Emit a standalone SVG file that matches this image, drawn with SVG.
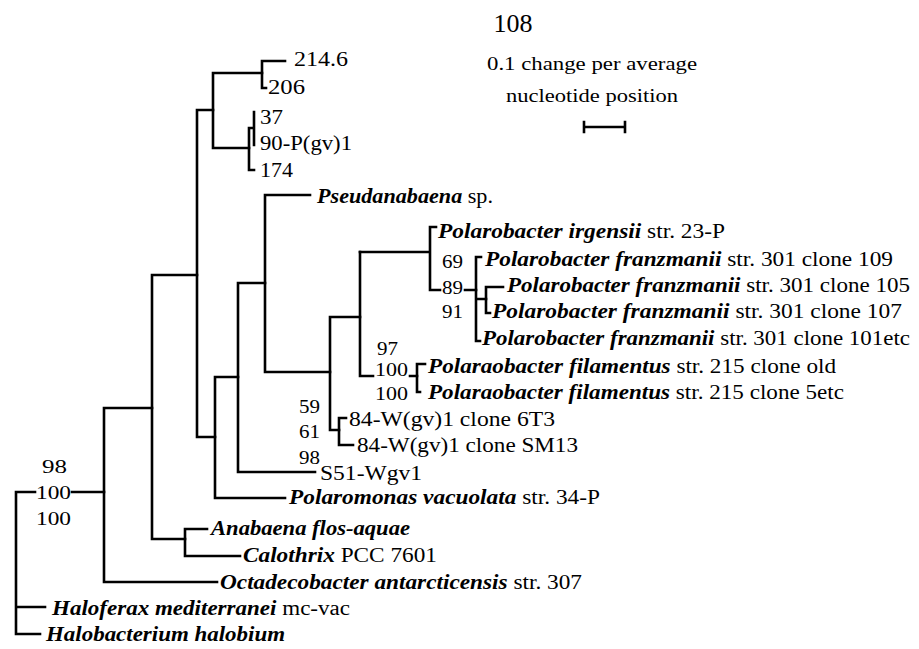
<svg xmlns="http://www.w3.org/2000/svg" width="919" height="649" viewBox="0 0 919 649">
<style>
.br{stroke:#000;stroke-width:2.6;fill:none;stroke-linecap:square}
text{font-family:"Liberation Serif","Times New Roman",serif;font-size:20px;fill:#000}
.it{font-style:italic;font-weight:bold}
.bs{font-size:19px}
.sc{font-size:19px;text-anchor:middle}
.ti{font-size:26px;text-anchor:middle}
</style>
<rect width="919" height="649" fill="#fff"/>
<text class="ti" x="513" y="32">108</text>
<g id="scale">
<text class="sc" x="592" y="70" textLength="210" lengthAdjust="spacingAndGlyphs">0.1 change per average</text>
<text class="sc" x="592" y="102" textLength="172" lengthAdjust="spacingAndGlyphs">nucleotide position</text>
<path class="br" d="M584,127H625M584,122V132M625,122V132"/>
</g>
<g id="connectors">
<path class="br" d="M16,492V634M16,492H35M72,492H104M16,607H45M16,634H40"/>
<path class="br" d="M104,408V582M104,408H152M104,582H217"/>
<path class="br" d="M152,275V539M152,275H197M152,539H185"/>
<path class="br" d="M185,529V556M185,529H207M185,556H240"/>
<path class="br" d="M197,110V437M197,110H213M197,437H215"/>
<path class="br" d="M213,73V148M213,73H262M213,148H249"/>
<path class="br" d="M262,61V88M262,61H285M262,88H266"/>
<path class="br" d="M249,128V170M249,128H254M249,170H254M254,112V145"/>
<path class="br" d="M215,377V498M215,377H238M215,498H285"/>
<path class="br" d="M238,283V472M238,283H265M238,472H315"/>
<path class="br" d="M265,195V372M265,195H310M265,372H330"/>
<path class="br" d="M330,317V430M330,317H360M330,430H339"/>
<path class="br" d="M339,418V445M339,418H346M339,445H353"/>
<path class="br" d="M360,252V376M360,376H373M410,376H417"/>
<path class="br" d="M417,364V392M417,364H425M417,392H420"/>
<path class="br" d="M360,252H430M430,227V290M430,227H436M430,290H440M465,290H476"/>
<path class="br" d="M476,257V341M476,257H481M476,299H486M476,341H480"/>
<path class="br" d="M486,287V313M486,287H503M486,313H490"/>
</g>
<g id="leaf-214-6"><text x="294" y="66" textLength="54" lengthAdjust="spacingAndGlyphs">214.6</text></g>
<g id="leaf-206"><text x="268" y="94" textLength="37" lengthAdjust="spacingAndGlyphs">206</text></g>
<g id="leaf-37"><text x="260" y="124" textLength="23" lengthAdjust="spacingAndGlyphs">37</text></g>
<g id="leaf-90-P"><text x="260" y="150" textLength="92" lengthAdjust="spacingAndGlyphs">90-P(gv)1</text></g>
<g id="leaf-174"><text x="260" y="177" textLength="33" lengthAdjust="spacingAndGlyphs">174</text></g>
<g id="leaf-pseudanabaena"><text x="317" y="203" textLength="176" lengthAdjust="spacingAndGlyphs"><tspan class="it">Pseudanabaena</tspan> sp.</text></g>
<g id="leaf-irgensii"><text x="438" y="238" textLength="287" lengthAdjust="spacingAndGlyphs"><tspan class="it">Polarobacter irgensii</tspan> str. 23-P</text></g>
<g id="leaf-fr109"><text x="485" y="266" textLength="408" lengthAdjust="spacingAndGlyphs"><tspan class="it">Polarobacter franzmanii</tspan> str. 301 clone 109</text></g>
<g id="leaf-fr105"><text x="507" y="292" textLength="403" lengthAdjust="spacingAndGlyphs"><tspan class="it">Polarobacter franzmanii</tspan> str. 301 clone 105</text></g>
<g id="leaf-fr107"><text x="492" y="318" textLength="410" lengthAdjust="spacingAndGlyphs"><tspan class="it">Polarobacter franzmanii</tspan> str. 301 clone 107</text></g>
<g id="leaf-fr101"><text x="482" y="345" textLength="428" lengthAdjust="spacingAndGlyphs"><tspan class="it">Polarobacter franzmanii</tspan> str. 301 clone 101etc</text></g>
<g id="leaf-filold"><text x="428" y="373" textLength="408" lengthAdjust="spacingAndGlyphs"><tspan class="it">Polaraobacter filamentus</tspan> str. 215 clone old</text></g>
<g id="leaf-fil5"><text x="428" y="399" textLength="416" lengthAdjust="spacingAndGlyphs"><tspan class="it">Polaraobacter filamentus</tspan> str. 215 clone 5etc</text></g>
<g id="leaf-6T3"><text x="349" y="426" textLength="206" lengthAdjust="spacingAndGlyphs">84-W(gv)1 clone 6T3</text></g>
<g id="leaf-SM13"><text x="357" y="452" textLength="221" lengthAdjust="spacingAndGlyphs">84-W(gv)1 clone SM13</text></g>
<g id="leaf-S51"><text x="320" y="480" textLength="102" lengthAdjust="spacingAndGlyphs">S51-Wgv1</text></g>
<g id="leaf-polaromonas"><text x="289" y="504" textLength="311" lengthAdjust="spacingAndGlyphs"><tspan class="it">Polaromonas vacuolata</tspan> str. 34-P</text></g>
<g id="leaf-anabaena"><text x="211" y="535" textLength="199" lengthAdjust="spacingAndGlyphs"><tspan class="it">Anabaena flos-aquae</tspan></text></g>
<g id="leaf-calothrix"><text x="243" y="562" textLength="194" lengthAdjust="spacingAndGlyphs"><tspan class="it">Calothrix</tspan> PCC 7601</text></g>
<g id="leaf-octadecobacter"><text x="220" y="589" textLength="362" lengthAdjust="spacingAndGlyphs"><tspan class="it">Octadecobacter antarcticensis</tspan> str. 307</text></g>
<g id="leaf-haloferax"><text x="52" y="615" textLength="298" lengthAdjust="spacingAndGlyphs"><tspan class="it">Haloferax mediterranei</tspan> mc-vac</text></g>
<g id="leaf-halobacterium"><text x="46" y="641" textLength="239" lengthAdjust="spacingAndGlyphs"><tspan class="it">Halobacterium halobium</tspan></text></g>
<g id="support">
<text class="bs" x="442" y="268" textLength="21" lengthAdjust="spacingAndGlyphs">69</text>
<text class="bs" x="442" y="294" textLength="21" lengthAdjust="spacingAndGlyphs">89</text>
<text class="bs" x="442" y="318" textLength="21" lengthAdjust="spacingAndGlyphs">91</text>
<text class="bs" x="377" y="355" textLength="21" lengthAdjust="spacingAndGlyphs">97</text>
<text class="bs" x="375" y="376" textLength="33" lengthAdjust="spacingAndGlyphs">100</text>
<text class="bs" x="375" y="400" textLength="33" lengthAdjust="spacingAndGlyphs">100</text>
<text class="bs" x="299" y="413" textLength="21" lengthAdjust="spacingAndGlyphs">59</text>
<text class="bs" x="299" y="438" textLength="21" lengthAdjust="spacingAndGlyphs">61</text>
<text class="bs" x="299" y="464" textLength="21" lengthAdjust="spacingAndGlyphs">98</text>
<text class="bs" x="42" y="473" textLength="25" lengthAdjust="spacingAndGlyphs">98</text>
<text class="bs" x="36" y="499" textLength="35" lengthAdjust="spacingAndGlyphs">100</text>
<text class="bs" x="36" y="525" textLength="35" lengthAdjust="spacingAndGlyphs">100</text>
</g>
</svg>
